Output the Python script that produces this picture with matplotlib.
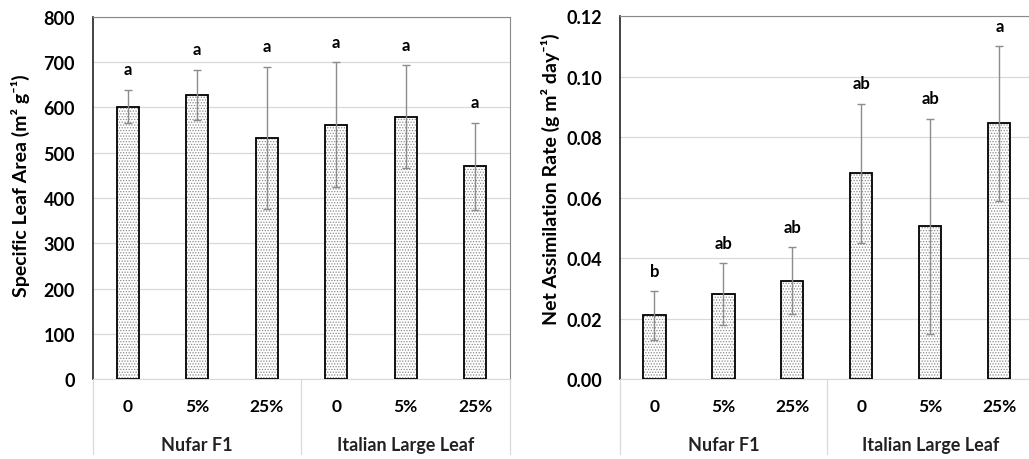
import matplotlib
matplotlib.use("Agg")
import matplotlib.pyplot as plt
import numpy as np

plt.rcParams['font.family'] = ['Lato', 'DejaVu Sans']
plt.rcParams['hatch.linewidth'] = 0.6

# ----------------------
# Data
# ----------------------
cultivars = ["Nufar F1", "Italian Large Leaf"]
levels = ["0", "5%", "25%", "0", "5%", "25%"]

sla_mean = [602, 628, 533, 562, 580, 470]
sla_err = [37, 55, 157, 138, 113, 96]
sla_letters = ["a", "a", "a", "a", "a", "a"]

nar_mean = [0.021, 0.028, 0.0325, 0.068, 0.0505, 0.0845]
nar_err = [0.008, 0.0103, 0.011, 0.023, 0.0355, 0.0255]
nar_letters = ["b", "ab", "ab", "ab", "ab", "a"]

GRID = "#d9d9d9"


def draw_panel(ax, means, errs, letters, ymax, step, fmt, ylabel):
    x = np.arange(len(means))
    # dotted fill first, then the black outline on top
    ax.bar(x, means, width=0.32, color="white", edgecolor="#8a8a8a",
           hatch="......", linewidth=0, zorder=2)
    ax.bar(x, means, width=0.32, color="none", edgecolor="black",
           linewidth=1.3, zorder=3)
    ax.errorbar(x, means, yerr=errs, fmt="none", ecolor="#8c8c8c",
                elinewidth=1, capsize=3, capthick=1, zorder=4)
    for xi, m, e, lab in zip(x, means, errs, letters):
        ax.annotate(lab, (xi, m + e), xytext=(0, 9), textcoords="offset points",
                    ha="center", va="bottom", fontsize=12, fontweight="bold")

    ax.set_xlim(-0.5, len(means) - 0.5)
    ax.set_ylim(0, ymax)
    ticks = np.arange(0, ymax + step / 2, step)
    ax.set_yticks(ticks)
    ax.set_yticklabels([fmt.format(t) for t in ticks], fontsize=13,
                       fontweight="bold")
    ax.set_xticks(x)
    ax.set_xticklabels(levels, fontsize=12.5, fontweight="bold")
    ax.tick_params(axis="both", length=0)
    ax.tick_params(axis="x", pad=14)
    ax.tick_params(axis="y", pad=13)
    ax.yaxis.grid(True, color=GRID, linewidth=0.9, zorder=0)
    ax.set_axisbelow(True)

    ax.spines["left"].set_color("#222222")
    ax.spines["left"].set_linewidth(1.2)
    ax.spines["top"].set_color("#888888")
    ax.spines["right"].set_color("#888888")
    ax.spines["bottom"].set_color(GRID)

    # category table under the axis
    for xv in (0, 0.5, 1):
        ax.plot([xv, xv], [0, -0.207], transform=ax.transAxes, color=GRID,
                linewidth=0.9, clip_on=False)
    for i, name in enumerate(cultivars):
        ax.text(0.25 + 0.5 * i, -0.18, name, transform=ax.transAxes,
                ha="center", va="center", fontsize=13, fontweight="bold",
                color="#222222")

    ax.set_ylabel(ylabel, fontsize=14, fontweight="bold")


fig = plt.figure(figsize=(10.29, 4.6), dpi=100)
ax1 = fig.add_axes([0.0904, 0.1739, 0.4052, 0.787])
ax2 = fig.add_axes([0.6025, 0.1739, 0.4023, 0.789])

draw_panel(ax1, sla_mean, sla_err, sla_letters, 800, 100, "{:.0f}",
           "Specific Leaf Area (m² g⁻¹)")
draw_panel(ax2, nar_mean, nar_err, nar_letters, 0.12, 0.02, "{:.2f}",
           "Net Assimilation Rate (g m² day⁻¹)")
ax2.spines["right"].set_visible(False)

ax1.yaxis.set_label_coords(-0.15, 0.536)
ax2.yaxis.set_label_coords(-0.145, 0.554)

fig.savefig("out.png", dpi=100)
